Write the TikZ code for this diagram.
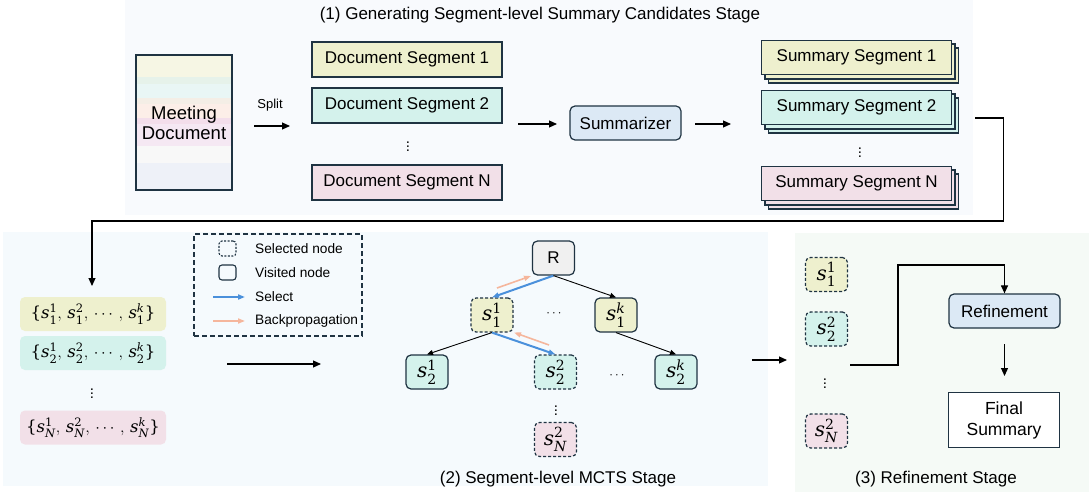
\RequirePackage{fix-cm}
\documentclass[tikz,border=0pt]{standalone}
\usepackage{amsmath}
\usepackage{fontspec}
\setmainfont{Liberation Sans}
\newfontfamily\mfam{DejaVu Serif}
\newcommand\svar[2]{$\textit{s}_{\text{#1}}^{\text{#2}}$}
\newcommand\setvar[1]{{\mfam$\text{\{}\textit{s}_{\text{#1}}^{\text{1}},\,\textit{s}_{\text{#1}}^{\text{2}},\,\cdots,\,\textit{s}_{\text{#1}}^{\textit{k}}\text{\}}$}}
\usetikzlibrary{arrows.meta}
\definecolor{bd}{HTML}{1F3342}
\definecolor{cyel}{HTML}{EEF0CE}
\definecolor{ccya}{HTML}{D4F2EC}
\definecolor{cpin}{HTML}{F2E0E8}
\definecolor{cblu}{HTML}{DCE9F5}
\definecolor{cgry}{HTML}{F0F0F0}
\definecolor{selblue}{HTML}{4A90DB}
\definecolor{bksal}{HTML}{F5B69C}
\definecolor{pantop}{HTML}{F8FAFD}
\definecolor{panmid}{HTML}{F5FAFD}
\definecolor{panrgt}{HTML}{F5FAF6}
\definecolor{stA}{HTML}{F6F6E4}
\definecolor{stB}{HTML}{E6F2EA}
\definecolor{stC}{HTML}{E9F6F5}
\definecolor{stD}{HTML}{F4EEE6}
\definecolor{stE}{HTML}{FCEEE8}
\definecolor{stF}{HTML}{F3DEEB}
\definecolor{stG}{HTML}{F5E8F3}
\definecolor{stH}{HTML}{F8F8F8}
\definecolor{stI}{HTML}{EEF1F8}
\begin{document}
\begin{tikzpicture}[x=1pt,y=-1pt,
  txt/.style={font=\fontsize{17}{20}\selectfont},
  dotn/.style={font=\fontsize{15}{17}\selectfont,inner sep=0pt},
  segbox/.style={draw=bd,line width=1.2pt,minimum width=190pt,minimum height=35pt,inner sep=0pt,txt},
  rndbox/.style={draw=bd,line width=1.2pt,rounded corners=5pt,fill=cblu,minimum width=111pt,minimum height=34pt,inner sep=0pt,txt},
  setbox/.style={rounded corners=5pt,minimum width=146pt,minimum height=34pt,inner sep=0pt,font=\fontsize{16.5}{20}\selectfont\mfam},
  tnode/.style={draw=bd,line width=1.2pt,rounded corners=5pt,minimum width=42pt,minimum height=34pt,inner sep=0pt,font=\fontsize{20}{22}\selectfont\mfam},
  selnode/.style={tnode,dash pattern=on 3pt off 2pt},
  conn/.style={line width=1.1pt,-{Triangle[length=8pt,width=7pt]}},
  thin/.style={line width=0.9pt,-{Triangle[length=6pt,width=5pt]}},
  bluearr/.style={draw=selblue,line width=2pt,-{Triangle[length=7pt,width=5pt]}},
  salarr/.style={draw=bksal,line width=1.6pt,-{Triangle[length=7pt,width=5pt]}},
  title/.style={font=\fontsize{17}{20}\selectfont},
  legtxt/.style={font=\fontsize{13.7}{16}\selectfont,anchor=west,inner sep=0pt},
]
\useasboundingbox (0,0) rectangle (1089,492);
% panels
\fill[pantop] (125,0) rectangle (973,215);
\fill[panmid] (3,232) rectangle (768,486);
\fill[panrgt] (795,233) rectangle (1089,492);

\node[title] (t1) at (540,15) {(1) Generating Segment-level Summary Candidates Stage};

% meeting document
\fill[stA] (136,55) rectangle (232,77);
\fill[stB] (136,77) rectangle (232,84);
\fill[stC] (136,84) rectangle (232,98);
\fill[stD] (136,98) rectangle (232,104);
\fill[stE] (136,104) rectangle (232,118);
\fill[stF] (136,118) rectangle (232,124);
\fill[stG] (136,124) rectangle (232,146);
\fill[stH] (136,146) rectangle (232,163);
\fill[stI] (136,163) rectangle (232,190);
\node[draw=bd,line width=1.2pt,minimum width=96pt,minimum height=135pt,inner sep=0pt,align=center,font=\fontsize{18.5}{20}\selectfont] (doc) at (184,122.5) {Meeting\\Document};

\node[font=\fontsize{13}{15}\selectfont] (split) at (270,105) {Split};
\coordinate (sp1) at (254,126);
\coordinate (sp2) at (290,126);
\draw[conn] (sp1) -- (sp2);

% document segments
\node[segbox,fill=cyel] (d1) at (407,59.5) {Document Segment 1};
\node[segbox,fill=ccya] (d2) at (407,105.5) {Document Segment 2};
\node[dotn] (ddots) at (408,144) {$\vdots$};
\node[segbox,fill=cpin] (dn) at (407,182.5) {Document Segment N};

\coordinate (a1) at (518,124);
\coordinate (a1e) at (557,124);
\draw[conn] (a1) -- (a1e);
\node[rndbox] (summ) at (625.5,123) {Summarizer};
\coordinate (a2) at (695,124);
\coordinate (a2e) at (731,124);
\draw[conn] (a2) -- (a2e);

% summary segment stacks
\foreach \nm/\cy/\col/\lab in {s1/57.5/cyel/Summary Segment 1, s2/107.5/ccya/Summary Segment 2, sn/183.5/cpin/Summary Segment N}{
  \node[segbox,fill=\col] (\nm c) at (863.5,\cy+8) {};
  \node[segbox,fill=\col] (\nm b) at (860,\cy+4) {};
  \node[segbox,fill=\col,minimum height=34pt] (\nm) at (856.5,\cy) {\lab};
}
\node[dotn] (sdots) at (860,150) {$\vdots$};

% long connector
\coordinate (c0) at (975,118);
\coordinate (c1) at (1003.5,118);
\coordinate (c2) at (1003.5,221);
\coordinate (c3) at (92,221);
\coordinate (c4) at (92,286);
\draw[conn] (c0) -- (c1) -- (c2) -- (c3) -- (c4);

% sets
\node[setbox,fill=cyel] (set1) at (93,314) {\setvar{1}};
\node[setbox,fill=ccya] (set2) at (93,353) {\setvar{2}};
\node[dotn] (setdots) at (92,391) {$\vdots$};
\node[setbox,fill=cpin] (setn) at (93,427.5) {\setvar{\textit{N}}};

% legend
\node[draw=bd,line width=1.1pt,dash pattern=on 5pt off 3pt,minimum width=168pt,minimum height=102pt,inner sep=0pt] (leg) at (278,285) {};
\node[draw=bd,line width=1.1pt,rounded corners=3pt,dash pattern=on 2pt off 1.5pt,minimum width=17pt,minimum height=15pt,inner sep=0pt] (lsel) at (227.5,248.5) {};
\node[legtxt] (lselt) at (255,248.5) {Selected node};
\node[draw=bd,line width=1.1pt,rounded corners=3pt,minimum width=17pt,minimum height=15pt,inner sep=0pt] (lvis) at (227.5,272.5) {};
\node[legtxt] (lvist) at (255,272.5) {Visited node};
\coordinate (lb1) at (213,297);
\coordinate (lb2) at (245,297);
\draw[bluearr] (lb1) -- (lb2);
\node[legtxt] (lbt) at (255,297) {Select};
\coordinate (ls1) at (213,321);
\coordinate (ls2) at (245,321);
\draw[salarr] (ls1) -- (ls2);
\node[legtxt] (lst) at (255,321) {Backpropagation};

\coordinate (m1) at (227,364);
\coordinate (m2) at (321,364);
\draw[conn] (m1) -- (m2);

% tree
\node[tnode,fill=cgry,font=\fontsize{17}{20}\selectfont] (R) at (553.5,258) {R};
\node[selnode,fill=cyel] (s11) at (492,315) {\svar{1}{1}};
\node[dotn,font=\fontsize{13}{15}\selectfont] (hd1) at (555,314) {$\cdots$};
\node[tnode,fill=cyel] (s1k) at (616,315) {\svar{1}{\textit{k}}};
\node[tnode,fill=ccya] (s21) at (427,372) {\svar{2}{1}};
\node[selnode,fill=ccya] (s22) at (555.5,372) {\svar{2}{2}};
\node[dotn,font=\fontsize{13}{15}\selectfont] (hd2) at (618,376) {$\cdots$};
\node[tnode,fill=ccya] (s2k) at (676,372) {\svar{2}{\textit{k}}};
\node[dotn] (vd) at (556,408) {$\vdots$};
\node[selnode,fill=cpin] (sN2) at (555.5,439.5) {\svar{\textit{N}}{2}};
\node[title] (t2) at (558,479) {(2) Segment-level MCTS Stage};

\draw[bluearr] (R.south) -- (s11.north);
\draw[thin] (R.south) -- (s1k.north);
\draw[thin] (s11.south) -- (s21.north);
\draw[bluearr] (s11.south) -- (s22.north);
\draw[thin] (s1k.south) -- (s2k.north);
\coordinate (b1) at (497,288);
\coordinate (b2) at (531,276);
\draw[salarr] (b1) -- (b2);
\coordinate (b3) at (549,345);
\coordinate (b4) at (514,332.5);
\draw[salarr] (b3) -- (b4);

\coordinate (r1) at (752,360);
\coordinate (r2) at (787,360);
\draw[conn] (r1) -- (r2);

% refinement stage
\node[selnode,fill=cyel] (f11) at (826.5,274.5) {\svar{1}{1}};
\node[selnode,fill=ccya] (f22) at (826.5,329) {\svar{2}{2}};
\node[dotn] (fdots) at (825,381) {$\vdots$};
\node[selnode,fill=cpin] (fN2) at (826.5,431) {\svar{\textit{N}}{2}};

\node[rndbox] (ref) at (1004.5,311) {Refinement};
\node[draw=bd,line width=1.1pt,fill=white,minimum width=111pt,minimum height=55pt,inner sep=0pt,align=center,font=\fontsize{17.5}{21}\selectfont] (fin) at (1004,420) {Final\\Summary};
\coordinate (q0) at (850,365);
\coordinate (q1) at (898,365);
\coordinate (q2) at (898,265);
\coordinate (q3) at (1004.5,265);
\draw[conn] (q0) -- (q1) -- (q2) -- (q3) -- (ref.north);
\coordinate (q4) at (1004.5,344);
\coordinate (q5) at (1004.5,376);
\draw[conn] (q4) -- (q5);
\node[title] (t3) at (936,479) {(3) Refinement Stage};
\end{tikzpicture}
\end{document}
